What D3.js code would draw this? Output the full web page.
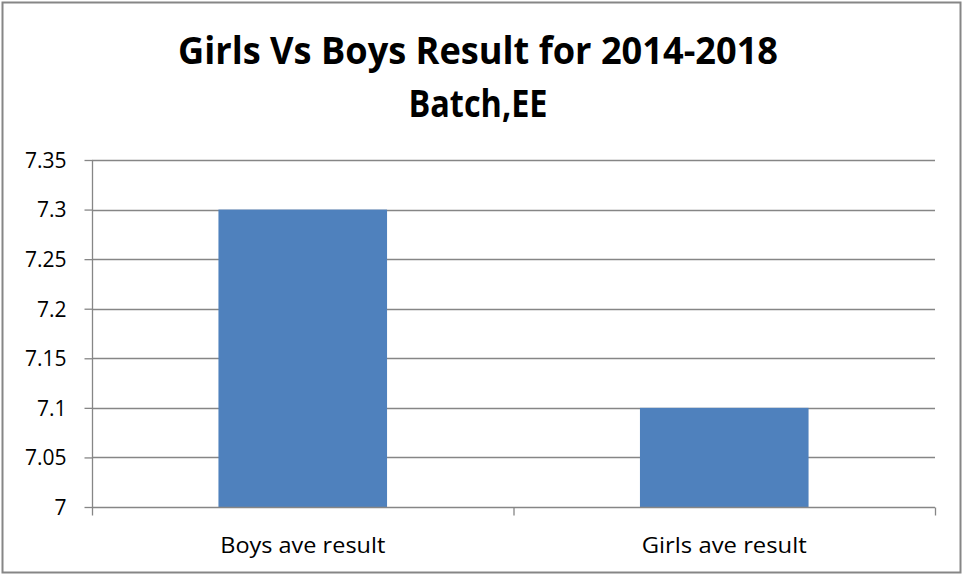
<!DOCTYPE html>
<html><head><meta charset="utf-8">
<script src="https://cdn.jsdelivr.net/npm/d3@7"></script>
<style>body{margin:0;background:#fff}svg{display:block}text{font-family:"Open Sans","Liberation Sans",sans-serif}</style>
</head><body><svg id="c" width="963" height="575"></svg>
<script>
const categories = ["Boys ave result", "Girls ave result"];
const values = [7.3, 7.1];
const yTicks = [7, 7.05, 7.1, 7.15, 7.2, 7.25, 7.3, 7.35];
const titleLines = ["Girls Vs Boys Result for 2014-2018", "Batch,EE"];

const svg = d3.select("#c");
svg.append("rect").attr("x",2.5).attr("y",2.5).attr("width",958).attr("height",570)
  .attr("fill","#fff").attr("stroke","#868686").attr("stroke-width",2);

const L=92, R=935, T=160, B=507;
const x = d3.scaleBand().domain(categories).range([L,R]).paddingInner(0.6).paddingOuter(0.3);
const xb = d3.scaleBand().domain(categories).range([L,R]);
const y = d3.scaleLinear().domain([7,7.35]).range([B,T]);

svg.append("g").selectAll("line").data(yTicks.filter(d=>d>7)).join("line")
  .attr("x1",L).attr("x2",R).attr("y1",d=>Math.round(y(d))+0.5).attr("y2",d=>Math.round(y(d))+0.5)
  .attr("stroke","#868686").attr("stroke-width",1.3);

svg.append("g").selectAll("rect").data(values).join("rect")
  .attr("x",(d,i)=>x(categories[i])).attr("width",x.bandwidth())
  .attr("y",d=>y(d)).attr("height",d=>y(7)-y(d)).attr("fill","#4F81BD");

const ya = svg.append("g").attr("transform",`translate(${L+0.5},0)`)
  .call(d3.axisLeft(y).tickValues(yTicks).tickSize(8).tickPadding(18).tickFormat(d=>String(+d.toFixed(2))));
ya.select(".domain").attr("stroke","#868686").attr("stroke-width",1.3).attr("d",`M0,${T}V${B}`);
ya.selectAll(".tick line").attr("stroke","#868686").attr("stroke-width",1.3);
ya.selectAll(".tick text").attr("font-size",21).attr("fill","#000").attr("dy","0.35em");

const xa = svg.append("g").attr("transform",`translate(0,${B+0.5})`);
xa.append("line").attr("x1",L).attr("x2",R).attr("stroke","#868686").attr("stroke-width",1.3);
const bounds=[L, ...categories.slice(1).map(c=>xb(c)), R];
xa.selectAll("line.t").data(bounds).join("line").attr("class","t")
  .attr("x1",d=>d+0.5).attr("x2",d=>d+0.5).attr("y1",0).attr("y2",8)
  .attr("stroke","#868686").attr("stroke-width",1.3);
xa.selectAll("text").data(categories).join("text")
  .attr("x",d=>xb(d)+xb.bandwidth()/2).attr("y",45).attr("text-anchor","middle")
  .attr("font-size",21).attr("fill","#000").attr("textLength",165).attr("lengthAdjust","spacingAndGlyphs").text(d=>d);

const tl=[600,139];
svg.selectAll("text.title").data(titleLines).join("text").attr("class","title")
  .attr("x",478).attr("y",(d,i)=>64+i*53).attr("text-anchor","middle")
  .attr("font-size",38).attr("font-weight","bold").attr("fill","#000")
  .attr("textLength",(d,i)=>tl[i]).attr("lengthAdjust","spacingAndGlyphs").text(d=>d);
</script></body></html>
